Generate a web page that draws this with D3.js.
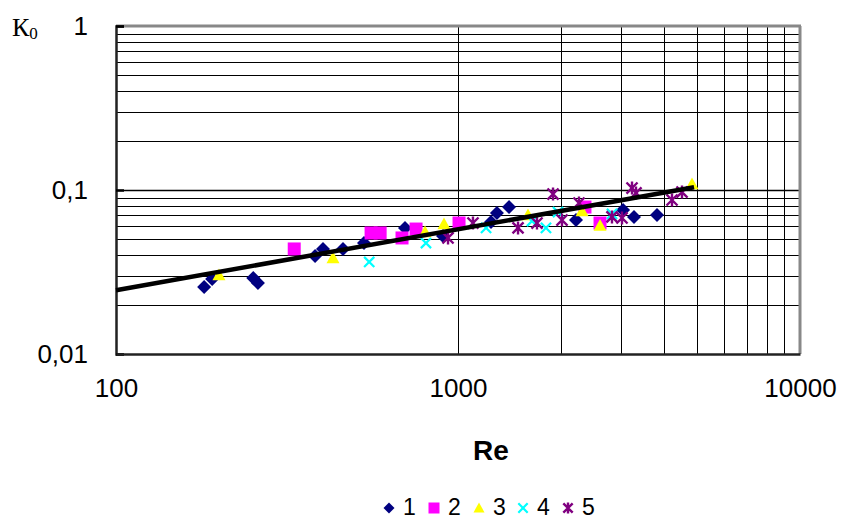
<!DOCTYPE html>
<html>
<head>
<meta charset="utf-8">
<script src="https://cdn.jsdelivr.net/npm/d3@7"></script>
<style>
  html, body { margin: 0; padding: 0; background: #fff; }
  svg { display: block; }
</style>
</head>
<body>
<svg id="chart" width="845" height="521"></svg>
<script>
// ---- data ----
const series1 = [[181,0.0256],[191,0.0287],[252,0.0291],[260,0.0271],[382,0.0396],[403,0.0437],[461,0.0437],[531,0.0475],[700,0.0587],[904,0.0524],[1249,0.0638],[1300,0.0724],[1410,0.0787],[2213,0.0656],[3038,0.0755],[3270,0.0685],[3818,0.0704]];
const series2 = [[332,0.0437],[557,0.0547],[592,0.0547],[686,0.0510],[754,0.0578],[1007,0.0629],[2351,0.0787],[2602,0.0629]];
const series3 = [[200,0.0303],[431,0.0385],[801,0.0554],[910,0.0620],[1602,0.0704],[2305,0.0745],[2602,0.0608],[4833,0.1088]];
const series4 = [[550,0.0364],[806,0.0475],[1208,0.0587],[1646,0.0647],[1808,0.0587],[1961,0.0734],[2820,0.0714]];
const series5 = [[935,0.0510],[1106,0.0629],[1498,0.0587],[1702,0.0629],[1896,0.0945],[2014,0.0656],[2258,0.0833],[2820,0.0685],[3017,0.0675],[3227,0.1028],[3315,0.0959],[4224,0.0869],[4518,0.0972]];
const fitLine = [[100,0.0245],[4900,0.104]];
const seriesNames = ["1","2","3","4","5"];
const xTickValues = [100, 1000, 10000];
const xTickLabels = ["100", "1000", "10000"];
const yTickValues = [0.01, 0.1, 1];
const yTickLabels = ["0,01", "0,1", "1"];
const xGridValues = [1000,2000,3000,4000,5000,6000,7000,8000,9000];
const yGridValues = [0.01,0.02,0.03,0.04,0.05,0.06,0.07,0.08,0.09,0.1,0.2,0.3,0.4,0.5,0.6,0.7,0.8,0.9,1];

// ---- layout ----
const svg = d3.select("#chart");
const L = 116, R = 800, T = 26, B = 354;
const x = d3.scaleLog().domain([100, 10000]).range([L, R]);
const y = d3.scaleLog().domain([0.01, 1]).range([B, T]);

// gridlines
const grid = svg.append("g");
grid.selectAll("line.h").data(yGridValues).enter().append("line")
  .attr("x1", L).attr("x2", R)
  .attr("y1", d => Math.round(y(d)) + 0.5).attr("y2", d => Math.round(y(d)) + 0.5)
  .attr("stroke", "#000").attr("stroke-width", d => (d === 0.1 ? 1.6 : 1));
grid.selectAll("line.v").data(xGridValues).enter().append("line")
  .attr("y1", T).attr("y2", B)
  .attr("x1", d => Math.round(x(d)) + 0.5).attr("x2", d => Math.round(x(d)) + 0.5)
  .attr("stroke", "#000").attr("stroke-width", 1);

// frame: top & right gray, left & bottom black
svg.append("line").attr("x1", L).attr("x2", R + 1).attr("y1", T).attr("y2", T)
  .attr("stroke", "#888").attr("stroke-width", 3);
svg.append("line").attr("x1", R).attr("x2", R).attr("y1", T).attr("y2", B)
  .attr("stroke", "#888").attr("stroke-width", 3);

// axes
const fmtY = d => yTickLabels[yTickValues.indexOf(d)];
const fmtX = d => xTickLabels[xTickValues.indexOf(d)];
const yAxis = svg.append("g").attr("transform", `translate(${L},0)`)
  .call(d3.axisLeft(y).tickValues(yTickValues).tickFormat(fmtY).tickSize(-8).tickPadding(28));
const xAxis = svg.append("g").attr("transform", `translate(0,${B})`)
  .call(d3.axisBottom(x).tickValues(xTickValues).tickFormat(fmtX).tickSize(0).tickPadding(25));
[yAxis, xAxis].forEach(g => {
  g.select(".domain").attr("stroke", "#222").attr("stroke-width", 2.5);
  g.selectAll("text").attr("font-family", "Liberation Sans, Arial, sans-serif")
    .attr("font-size", 26).attr("fill", "#000");
});
yAxis.selectAll(".tick line").attr("stroke", "#000").attr("stroke-width", 2.5);

// marker shapes
const colors = ["#000080", "#FF00FF", "#FFFF00", "#00FFFF", "#800080"];
function drawMarker(g, type, s) {
  const h = s / 2;
  if (type === 0) {
    g.append("path").attr("d", `M0,${-h}L${h},0L0,${h}L${-h},0Z`).attr("fill", colors[0]);
  } else if (type === 1) {
    g.append("rect").attr("x", -h).attr("y", -h).attr("width", s).attr("height", s).attr("fill", colors[1]);
  } else if (type === 2) {
    g.append("path").attr("d", `M0,${-h}L${h},${h * 0.8}L${-h},${h * 0.8}Z`).attr("fill", colors[2]);
  } else if (type === 3) {
    const k = h * 0.85;
    g.append("path").attr("d", `M${-k},${-k}L${k},${k}M${-k},${k}L${k},${-k}`)
      .attr("stroke", colors[3]).attr("stroke-width", 2.2).attr("fill", "none");
  } else {
    const k = h * 0.85;
    g.append("path").attr("d", `M${-k},${-k}L${k},${k}M${-k},${k}L${k},${-k}M0,${-h}L0,${h}`)
      .attr("stroke", colors[4]).attr("stroke-width", 2.4).attr("fill", "none");
  }
}

const allSeries = [series1, series2, series3, series4, series5];
const sizes = [14, 13, 13, 12, 13];
allSeries.forEach((data, i) => {
  const gs = svg.append("g");
  gs.selectAll("g").data(data).enter().append("g")
    .attr("transform", d => `translate(${x(d[0])},${y(d[1])})`)
    .each(function () { drawMarker(d3.select(this), i, sizes[i]); });
});

// fit line
svg.append("path").datum(fitLine)
  .attr("d", d3.line().x(d => x(d[0])).y(d => y(d[1])))
  .attr("stroke", "#000").attr("stroke-width", 4.5).attr("fill", "none");

// axis titles
svg.append("text").attr("x", 491).attr("y", 460).attr("text-anchor", "middle")
  .attr("font-family", "Liberation Sans, Arial, sans-serif").attr("font-weight", "bold")
  .attr("font-size", 28).text("Re");
const yt = svg.append("text").attr("x", 12).attr("y", 36)
  .attr("font-family", "Liberation Serif, Times New Roman, serif").attr("font-size", 26);
yt.append("tspan").text("К");
yt.append("tspan").attr("font-size", 17).attr("dy", 3).text("0");

// legend
const legendX = [389, 434, 479, 523, 568];
const lg = svg.append("g");
seriesNames.forEach((name, i) => {
  const g = lg.append("g").attr("transform", `translate(${legendX[i]},508)`);
  drawMarker(g, i, 11);
  lg.append("text").attr("x", legendX[i] + 14).attr("y", 515)
    .attr("font-family", "Liberation Sans, Arial, sans-serif").attr("font-size", 23).text(name);
});
</script>
</body>
</html>
